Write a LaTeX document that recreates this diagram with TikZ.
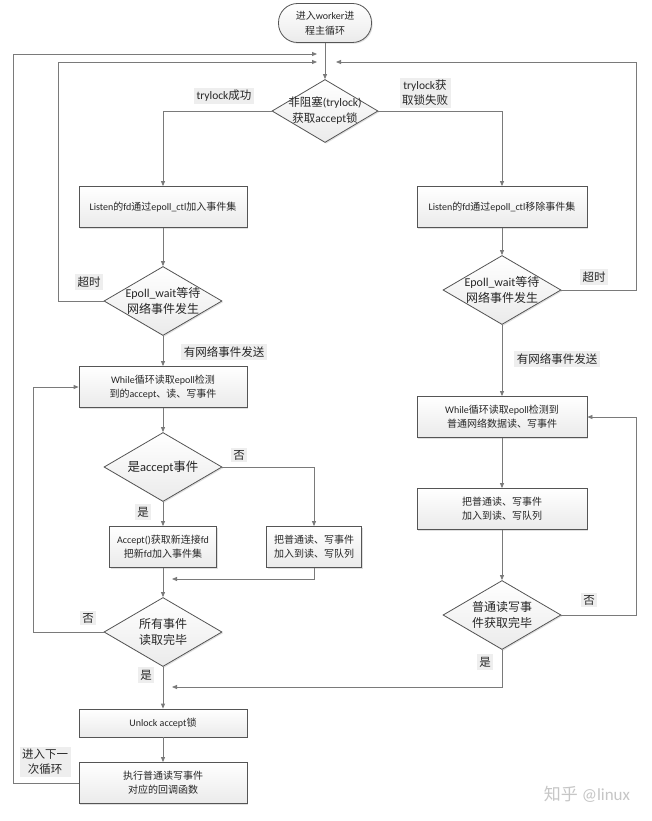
\documentclass[tikz,border=0pt]{standalone}
\usepackage{fontspec}
\setmainfont{Carlito}
\newfontfamily\cjkfont{Noto Sans CJK SC}
\usetikzlibrary{shapes.geometric,arrows.meta,shadows}
\XeTeXinterchartokenstate=1
\newXeTeXintercharclass\cjkcls
\newcount\mycnt
\mycnt="4E00
\loop
  \XeTeXcharclass\mycnt=\cjkcls
  \advance\mycnt by 1
\ifnum\mycnt<"A000 \repeat
\XeTeXcharclass"3001=\cjkcls
\XeTeXcharclass"3002=\cjkcls
\XeTeXinterchartoks 0 \cjkcls = {\cjkfont}
\XeTeXinterchartoks 4095 \cjkcls = {\cjkfont}
\XeTeXinterchartoks \cjkcls 0 = {\rmfamily}
\XeTeXinterchartoks \cjkcls 4095 = {\rmfamily}
\definecolor{linec}{HTML}{7A7A7A}
\definecolor{borderc}{HTML}{555555}
\definecolor{lblbg}{HTML}{EEEEEE}
\definecolor{txtc}{HTML}{262626}
\begin{document}
\begin{tikzpicture}[x=1pt,y=-1pt,
  box/.style={draw=borderc, line width=0.8pt, top color=white, bottom color=gray!16,
    minimum height=41pt, inner sep=2pt, align=center, text=txtc,
    font=\fontsize{10}{14}\selectfont,
    drop shadow={shadow xshift=1.2pt,shadow yshift=-1.2pt,opacity=0.25}},
  dia/.style={diamond, draw=borderc, line width=0.8pt, top color=white, bottom color=gray!16,
    minimum width=118pt, minimum height=69pt, inner sep=0pt,
    drop shadow={shadow xshift=1.2pt,shadow yshift=-1.2pt,opacity=0.25}},
  dtext/.style={align=center, text=txtc, inner sep=0pt, font=\fontsize{12}{16.5}\selectfont},
  arr/.style={draw=linec, line width=0.8pt, -{Triangle[length=5pt,width=4pt]}},
  ln/.style={draw=linec, line width=0.8pt},
  lbl/.style={fill=lblbg, inner sep=2.5pt, align=center, text=txtc, font=\fontsize{11.5}{15}\selectfont}]
\useasboundingbox[fill=white] (0,0) rectangle (652,821);

% nodes
\node[box, rounded corners=19pt, minimum width=93pt, minimum height=39pt, font=\fontsize{10}{15}\selectfont] (s) at (325,23) {进入worker进\\程主循环};
\node[dia, minimum width=106pt, minimum height=63pt] (d0) at (325,111) {};
\node[dtext, font=\fontsize{11.5}{16}\selectfont] (d0t) at (d0) {非阻塞(trylock)\\获取accept锁};

\node[box, minimum width=168pt] (L1) at (163,207) {Listen的fd通过epoll\_ctl加入事件集};
\node[box, minimum width=170pt] (R1) at (502,207) {Listen的fd通过epoll\_ctl移除事件集};

\node[dia] (d1) at (163,301) {};
\node[dtext] (d1t) at (d1) {Epoll\_wait等待\\网络事件发生};
\node[dia] (d2) at (502,290) {};
\node[dtext] (d2t) at (d2) {Epoll\_wait等待\\网络事件发生};

\node[box, minimum width=168pt] (L2) at (163,387) {While循环读取epoll检测\\到的accept、读、写事件};
\node[box, minimum width=170pt] (R2) at (502,417) {While循环读取epoll检测到\\普通网络数据读、写事件};

\node[dia] (d3) at (163,467) {};
\node[dtext, font=\fontsize{12.5}{16}\selectfont] (d3t) at (d3) {是accept事件};

\node[box, minimum width=107pt] (L3) at (163,547) {Accept()获取新连接fd\\把新fd加入事件集};
\node[box, minimum width=95pt] (L4) at (314,547) {把普通读、写事件\\加入到读、写队列};
\node[box, minimum width=170pt] (R3) at (502,509) {把普通读、写事件\\加入到读、写队列};

\node[dia] (d4) at (163,632) {};
\node[dtext] (d4t) at (d4) {所有事件\\读取完毕};
\node[dia] (d5) at (502,615) {};
\node[dtext] (d5t) at (d5) {普通读写事\\件获取完毕};

\node[box, minimum width=168pt, minimum height=28pt] (L5) at (163,723) {Unlock accept锁};
\node[box, minimum width=168pt] (L6) at (163,783) {执行普通读写事件\\对应的回调函数};

% junction coordinates
\coordinate (in0) at (317,54);
\coordinate (c0) at (13,54);
\coordinate (in1) at (317,62);
\coordinate (c1) at (58,62);
\coordinate (in2) at (336,62);
\coordinate (c2) at (636,62);
\coordinate (c3) at (33,632);
\coordinate (c4) at (636,615);
\coordinate (m1) at (172,579);
\coordinate (m2) at (172,687);

% connectors
\draw[arr] (s) -- (d0);
\draw[arr] (d0.west) -| (L1.north);
\draw[arr] (d0.east) -| (R1.north);
\draw[arr] (L1) -- (d1);
\draw[arr] (R1) -- (d2);
\draw[arr] (d1.west) -| (c1) -- (in1);
\draw[arr] (d2.east) -| (c2) -- (in2);
\draw[arr] (L6.west) -| (c0) -- (in0);
\draw[arr] (d1) -- (L2);
\draw[arr] (d2) -- (R2);
\draw[arr] (L2) -- (d3);
\draw[arr] (d3) -- (L3);
\draw[arr] (d3.east) -| (L4.north);
\draw[arr] (L3) -- (d4);
\draw[arr] (L4.south) |- (m1);
\draw[arr] (d4.west) -- (c3) |- (L2.west);
\draw[arr] (d4) -- (L5);
\draw[arr] (L5) -- (L6);
\draw[arr] (R2) -- (R3);
\draw[arr] (R3) -- (d5);
\draw[arr] (d5.east) -- (c4) |- (R2.east);
\draw[arr] (d5.south) |- (m2);

% labels
\node[lbl] (t1) at (224,96) {trylock成功};
\node[lbl] (t2) at (425,93) {trylock获\\取锁失败};
\node[lbl] (t3) at (89,282) {超时};
\node[lbl] (t4) at (594,277) {超时};
\node[lbl] (t5) at (224,352) {有网络事件发送};
\node[lbl] (t6) at (557,359) {有网络事件发送};
\node[lbl] (t7) at (239,455) {否};
\node[lbl] (t8) at (143,512) {是};
\node[lbl] (t9) at (88,618) {否};
\node[lbl] (t10) at (146,675) {是};
\node[lbl] (t11) at (589,600) {否};
\node[lbl] (t12) at (485,662) {是};
\node[lbl] (t13) at (45,762) {进入下一\\次循环};
\node[text=gray!45, font=\fontsize{17}{20}\selectfont] (wm) at (587,794) {知乎 @linux};
\end{tikzpicture}
\end{document}
